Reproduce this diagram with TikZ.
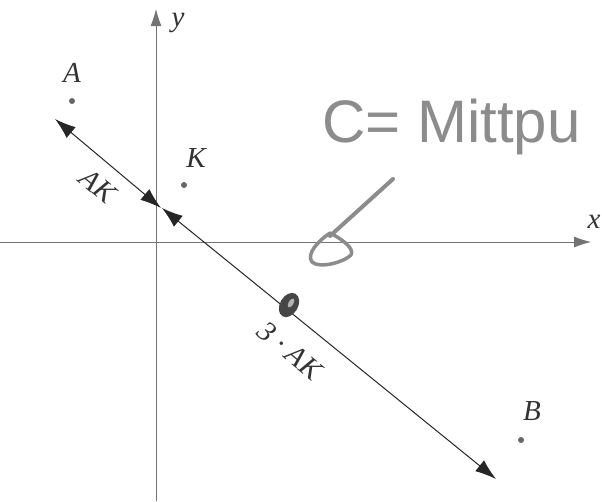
\documentclass[tikz,border=0pt]{standalone}
\usepackage{fontspec}
\setmainfont{Liberation Serif}
\newfontfamily\handfont{Liberation Sans}
\usetikzlibrary{arrows.meta}
\definecolor{axisgray}{gray}{0.45}
\definecolor{pengray}{gray}{0.55}
\definecolor{dotgray}{gray}{0.4}
\begin{document}
\begin{tikzpicture}[x=1pt,y=-1pt,
  axis/.style={draw=axisgray,line width=0.8pt,-{Latex[length=17pt,width=11pt]}},
  vec/.style={draw=black!85,line width=1pt,{Latex[length=21pt,width=14pt]}-{Latex[length=21pt,width=14pt]}},
  pt/.style={circle,fill=dotgray,inner sep=0pt,minimum size=6pt},
  lab/.style={font=\fontsize{29}{33}\selectfont\itshape,text=black!80,inner sep=0pt},
  pen/.style={draw=pengray,line width=4pt,line cap=round,line join=round}]
\useasboundingbox (0,0) rectangle (602,501);
\fill[white] (0,0) rectangle (602,501);
% axes
\coordinate (xs) at (0,242);
\coordinate (xe) at (591,242);
\coordinate (ys) at (156,501);
\coordinate (ye) at (156,9);
\draw[axis] (xs) -- (xe);
\draw[axis] (ys) -- (ye);
\node[lab] (xl) at (594,222) {x};
\node[lab] (yl) at (178,23) {y};
% points
\node[pt] (A) at (72,101) {};
\node[pt] (K) at (184,185) {};
\node[pt] (B) at (521,440) {};
\node[lab] (Al) at (72,73) {A};
\node[lab] (Kl) at (196,158) {K};
\node[lab] (Bl) at (532,411) {B};
% vectors
\coordinate (p1) at (55,119);
\coordinate (p2) at (161,208);
\coordinate (p3) at (162,208);
\coordinate (p4) at (496,479);
\draw[vec] (p1) -- (p2);
\draw[vec] (p3) -- (p4);
\node[lab,rotate=-40] (AKl) at (98,186) {AK};
\node[lab,rotate=-40] (AK3) at (290,351) {3 · AK};
% handwriting
\node[font=\handfont\fontsize{60}{66}\selectfont,text=pengray,anchor=west,inner sep=0pt] (hw) at (322,127) {C= Mittpu};
\coordinate (h1) at (393,179);
\coordinate (h2) at (330,236);
\draw[pen] (h1) -- (h2);
\draw[pen,line width=3.5pt] (330,233) .. controls (318,241) and (306,254) .. (312,262)
  .. controls (320,269) and (344,262) .. (351,255)
  .. controls (355,248) and (340,238) .. (330,233) -- cycle;
% blob
\fill[gray!55!black,rotate around={60:(289,305)}] (289,305) ellipse (13pt and 9pt);
\fill[gray!60,rotate around={60:(291,303)}] (291,303) ellipse (5pt and 2.5pt);
\end{tikzpicture}
\end{document}
